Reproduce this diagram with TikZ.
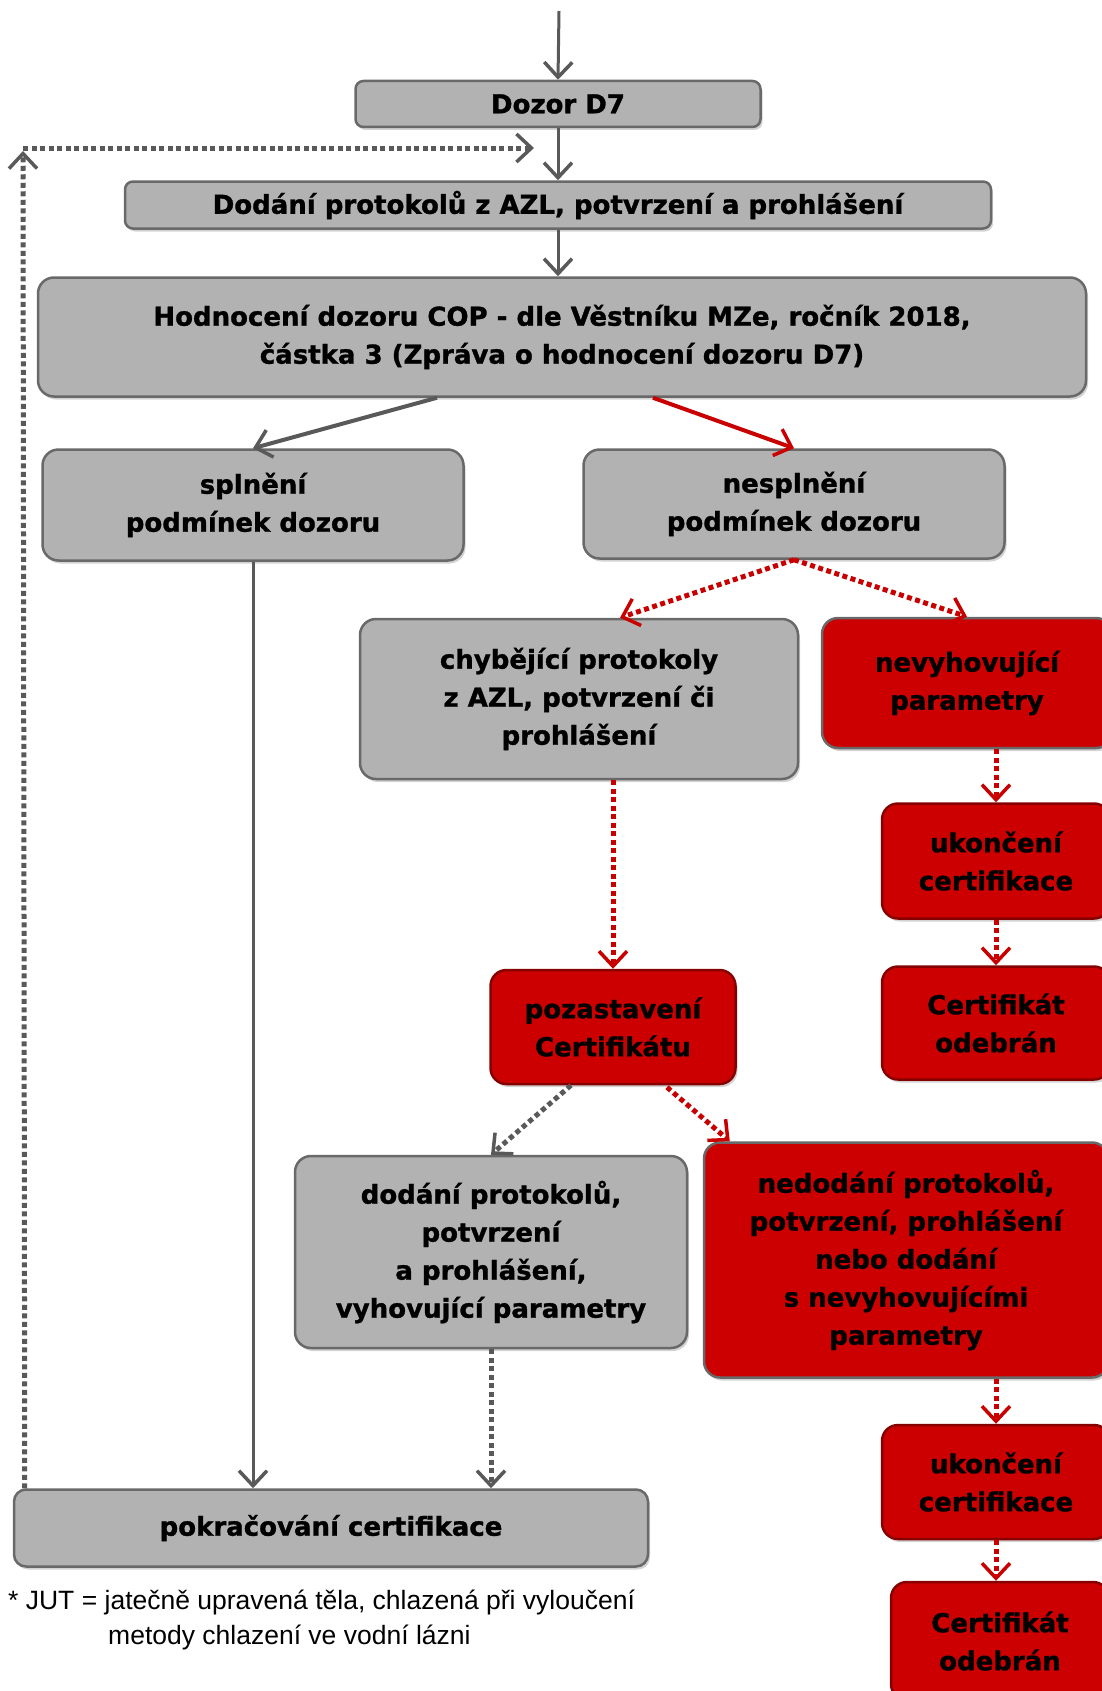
\documentclass[tikz,border=0pt]{standalone}
\usepackage{fontspec}
\setmainfont{DejaVu Sans}[BoldFeatures={FakeBold=1.2}]
\newfontfamily\notefont{Liberation Sans}
\usetikzlibrary{arrows.meta,calc,shadows}
\definecolor{boxgray}{RGB}{178,178,178}
\definecolor{edgegray}{RGB}{105,105,105}
\definecolor{boxred}{RGB}{204,0,0}
\definecolor{edgered}{RGB}{135,0,0}
\definecolor{linegray}{RGB}{89,89,89}
\definecolor{linered}{RGB}{200,0,0}

\begin{document}
\begin{tikzpicture}[x=1pt, y=-1pt,
  every node/.style={font=\bfseries\fontsize{26}{38}\selectfont},
  box/.style={draw, line width=2.5pt, rounded corners=16pt, align=center, inner sep=0pt,
    drop shadow={shadow xshift=2pt, shadow yshift=-3pt, opacity=0.35}},
  graybox/.style={box, fill=boxgray, draw=edgegray},
  redbox/.style={box, fill=boxred, draw=edgered},
  flowtip/.style={-{Straight Barb[length=15pt, width=28pt, line width=3.5pt]}},
  flow/.style={flowtip, line width=4pt, linegray},
  redflow/.style={flowtip, line width=4pt, linered},
  dotflow/.style={flowtip, line width=5pt, dash pattern=on 5pt off 3.5pt, linegray},
  reddots/.style={dotflow, linered},
]
  \useasboundingbox (0,0) rectangle (1101,1691);

  % upper part
  \node[graybox, rounded corners=8pt, minimum width=405pt, minimum height=46pt] (dozor) at (558,104) {Dozor D7};
  \node[graybox, rounded corners=8pt, minimum width=866pt, minimum height=47pt] (dodani) at (558,205) {Dodání protokolů z AZL, potvrzení a prohlášení};
  \node[graybox, minimum width=1048pt, minimum height=119pt] (hodnoceni) at (562,337) {Hodnocení dozoru COP - dle Věstníku MZe, ročník 2018,\\ částka 3 (Zpráva o hodnocení dozoru D7)};
  \node[graybox, minimum width=421pt, minimum height=111pt] (splneni) at (253,505) {splnění\\ podmínek dozoru};
  \node[graybox, minimum width=421pt, minimum height=109pt] (nesplneni) at (794,504) {nesplnění\\ podmínek dozoru};

  % right branch
  \node[graybox, minimum width=438pt, minimum height=160pt] (chybejici) at (579,699) {chybějící protokoly\\ z AZL, potvrzení či\\ prohlášení};
  \node[redbox, draw=edgegray, minimum width=290pt, minimum height=130pt] (nevyhov) at (967,683) {nevyhovující\\ parametry};
  \node[redbox, minimum width=228pt, minimum height=115pt] (ukonceni1) at (996,861) {ukončení\\ certifikace};
  \node[redbox, minimum width=228pt, minimum height=113pt] (odebran1) at (996,1023) {Certifikát\\ odebrán};
  \node[redbox, minimum width=245pt, minimum height=114pt] (pozast) at (613,1027) {pozastavení\\ Certifikátu};
  \node[graybox, minimum width=392pt, minimum height=192pt] (dodani2) at (491,1252) {dodání protokolů,\\ potvrzení\\ a prohlášení,\\ vyhovující parametry};
  \node[redbox, draw=edgegray, minimum width=404pt, minimum height=235pt] (nedodani) at (906,1260) {nedodání protokolů,\\ potvrzení, prohlášení\\ nebo dodání\\ s nevyhovujícími\\ parametry};
  \node[redbox, minimum width=228pt, minimum height=114pt] (ukonceni2) at (996,1482) {ukončení\\ certifikace};
  \node[redbox, minimum width=218pt, minimum height=118pt] (odebran2) at (1000,1641) {Certifikát\\ odebrán};

  % bottom
  \node[graybox, rounded corners=12pt, minimum width=634pt, minimum height=77pt] (pokracovani) at (331,1528) {pokračování certifikace};
  \node[font=\notefont\fontsize{26.5}{35}\selectfont, anchor=north west, align=left, inner sep=0pt] (poznamka) at (8,1590) {* JUT = jatečně upravená těla, chlazená při vyloučení\\ \hspace*{100pt}metody chlazení ve vodní lázni};

  \coordinate (start) at (559,11);
  \coordinate (loopup) at (23,151);
  \coordinate (loopleft) at (23,148);
  \coordinate (loopend) at (534,148);

  % connectors
  \draw[flow, line width=3pt] (start) -- (dozor.north);
  \draw[flow, line width=3pt] (dozor.south) -- (dozor.south |- dodani.north);
  \draw[flow, line width=3pt] (dodani.south) -- (dodani.south |- hodnoceni.north);
  \draw[flow] ($(hodnoceni.south)+(-125,0)$) -- (splneni.north);
  \draw[redflow] ($(hodnoceni.south)+(91,0)$) -- (nesplneni.north);
  \draw[reddots] (nesplneni.south) -- ($(chybejici.north)+(41,0)$);
  \draw[reddots] (nesplneni.south) -- (nevyhov.north);
  \draw[reddots] (ukonceni1.north |- nevyhov.south) -- (ukonceni1.north);
  \draw[reddots] (ukonceni1.south) -- (odebran1.north);
  \draw[reddots] (pozast.north |- chybejici.south) -- (pozast.north);
  \draw[dotflow] ($(pozast.south)+(-42,0)$) -- (dodani2.north);
  \draw[reddots] ($(pozast.south)+(54,2)$) -- ($(nedodani.north west)+(27,0)$);
  \draw[reddots] (ukonceni2.north |- nedodani.south) -- (ukonceni2.north);
  \draw[reddots] (ukonceni2.south) -- (ukonceni2.south |- odebran2.north);
  \draw[flow, line width=3pt] (splneni.south) -- (splneni.south |- pokracovani.north);
  \draw[dotflow] (dodani2.south) -- (dodani2.south |- pokracovani.north);
  \draw[dotflow] ($(pokracovani.north west)+(12,0)$) -- (loopup);
  \draw[dotflow] (loopleft) -- (loopend);
\end{tikzpicture}
\end{document}
